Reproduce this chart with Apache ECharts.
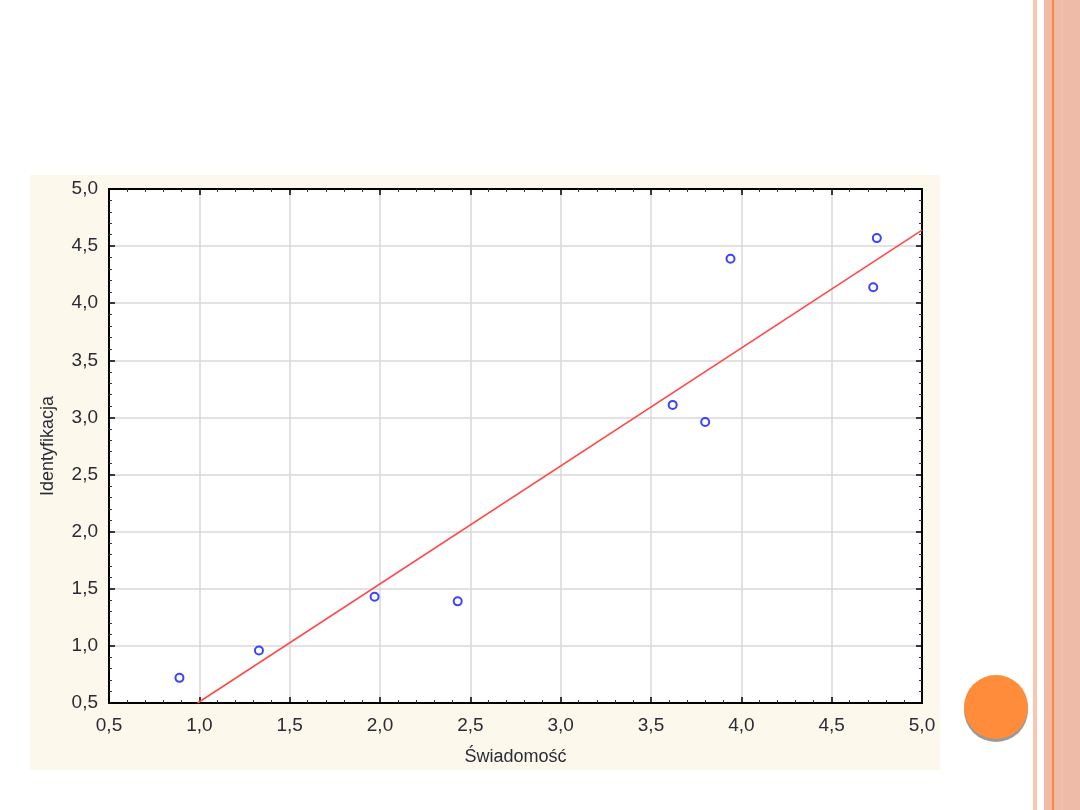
<!DOCTYPE html>
<html>
<head>
<meta charset="utf-8">
<script src="https://cdn.jsdelivr.net/npm/echarts@6/dist/echarts.min.js"></script>
<style>
  html, body { margin: 0; padding: 0; background: #fff; }
  body { width: 1080px; height: 810px; position: relative; overflow: hidden; }
  #chart { position: absolute; left: 30px; top: 175px; width: 910px; height: 595px; background: #fdf8ec; }
  .stripe { position: absolute; top: 0; height: 810px; }
  #dot { position: absolute; left: 964px; top: 675px; width: 64px; height: 64px; border-radius: 50%;
         background: #ff8c3a; box-shadow: 0 3px 0 #999; }
</style>
</head>
<body>
<div class="stripe" style="left:1033px;width:4px;background:#fcc5b2"></div>
<div class="stripe" style="left:1044px;width:36px;background:#eebba8"></div>
<div class="stripe" style="left:1052px;width:2px;background:#ff8833"></div>
<div class="stripe" style="left:1061px;width:2px;background:#f3c2ae"></div>
<div id="dot"></div>
<div id="chart"></div>
<script>
// Świadomość (x) vs Identyfikacja (y)
const xValues = [0.89, 1.33, 1.97, 2.43, 3.62, 3.80, 3.94, 4.73, 4.75];
const yValues = [0.72, 0.96, 1.43, 1.39, 3.11, 2.96, 4.39, 4.14, 4.57];
const fitLine = [[0.99, 0.5], [5.0, 4.64]];
const axisMin = 0.5;
const axisMax = 5.0;
const tickStep = 0.5;

const chart = echarts.init(document.getElementById("chart"), null, { renderer: "canvas" });

const fmt = (v) => v.toFixed(1).replace(".", ",");
const labelStyle = { color: "#2b2b36", fontFamily: "Liberation Sans, Arial, sans-serif", fontSize: 18 };
const tickLabelStyle = Object.assign({}, labelStyle, { fontSize: 19 });
const grid = {
  left: 79, top: 14, width: 813, height: 514,
  containLabel: false, outerBoundsMode: "none",
  show: true, backgroundColor: "#ffffff", borderWidth: 0,
};

function axisBase(extra) {
  return Object.assign({
    type: "value",
    min: axisMin,
    max: axisMax,
    interval: tickStep,
    axisLine: { show: true, onZero: false, lineStyle: { color: "#000", width: 2 } },
    axisTick: { show: true, inside: true, length: 6, lineStyle: { color: "#000", width: 1.5 } },
    minorTick: { show: true, splitNumber: 5, length: 3, lineStyle: { color: "#333", width: 1 } },
  }, extra);
}

chart.setOption({
  animation: false,
  grid: grid,
  xAxis: [
    axisBase({
      position: "bottom",
      name: "Świadomość",
      nameLocation: "middle",
      nameGap: 45,
      nameTextStyle: labelStyle,
      axisLabel: Object.assign({ formatter: fmt, margin: 13 }, tickLabelStyle),
      splitLine: { show: true, lineStyle: { color: "#d9d9d9", width: 1.5 } },
    }),
    axisBase({
      position: "top",
      axisLabel: { show: false },
      splitLine: { show: false },
    }),
  ],
  yAxis: [
    axisBase({
      position: "left",
      name: "Identyfikacja",
      nameLocation: "middle",
      nameGap: 52,
      nameTextStyle: labelStyle,
      axisLabel: Object.assign({ formatter: fmt, margin: 11 }, tickLabelStyle),
      splitLine: { show: true, lineStyle: { color: "#d9d9d9", width: 1.5 } },
    }),
    axisBase({
      position: "right",
      axisLabel: { show: false },
      splitLine: { show: false },
    }),
  ],
  series: [
    {
      type: "line",
      data: fitLine,
      symbol: "none",
      lineStyle: { color: "#ff4a4a", width: 1.6 },
      z: 2,
    },
    {
      type: "scatter",
      data: xValues.map((x, i) => [x, yValues[i]]),
      symbol: "circle",
      symbolSize: 8,
      itemStyle: { color: "#ffffff", borderColor: "#0a14ff", borderWidth: 2 },
      z: 3,
    },
  ],
});
</script>
</body>
</html>
